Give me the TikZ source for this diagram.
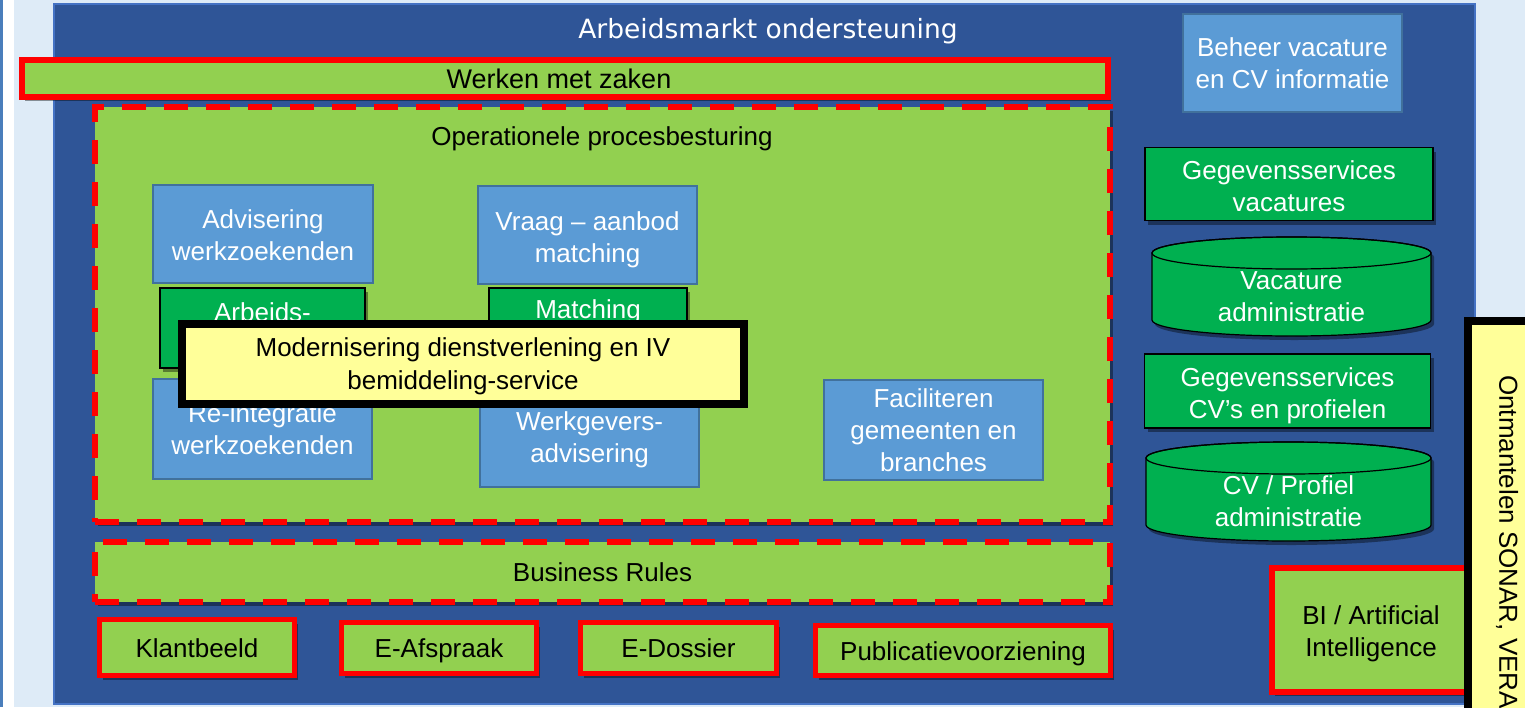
\documentclass[tikz,border=0pt]{standalone}
\usepackage{fontspec}
\setmainfont{Liberation Sans}
\newfontfamily\titlefont{DejaVu Sans}
\usetikzlibrary{shadows}
\definecolor{bgblue}{HTML}{DEEBF7}
\definecolor{stripblue}{HTML}{4A7EBB}
\definecolor{mainblue}{HTML}{2F5597}
\definecolor{mainborder}{HTML}{4472C4}
\definecolor{boxblue}{HTML}{5B9BD5}
\definecolor{boxborder}{HTML}{41719C}
\definecolor{ltgreen}{HTML}{92D050}
\definecolor{dkgreen}{HTML}{00B050}
\definecolor{yel}{HTML}{FFFF99}
\definecolor{redline}{HTML}{FF0000}
\tikzset{
  txt/.style={font=\fontsize{26}{32}\selectfont, align=center},
  one/.style={text height=19pt, text depth=0pt},
  shad/.style={drop shadow={shadow xshift=3pt,shadow yshift=-4pt,opacity=.4,fill=black}},
  bluebox/.style={txt, fill=boxblue, draw=boxborder, line width=2pt, text=white, inner sep=0pt},
  greenbox/.style={txt, fill=dkgreen, draw=black, line width=1.2pt, text=white, inner sep=0pt, shad},
  redbox/.style={txt, fill=ltgreen, draw=redline, line width=5.5pt, text=black, inner sep=0pt, shad},
  dashbox/.style={txt, fill=ltgreen, draw=redline, line width=6pt, dash pattern=on 24pt off 18pt, text=black, inner sep=0pt, shad},
  yelbox/.style={txt, fill=yel, draw=black, line width=8pt, text=black, inner sep=0pt},
  cylstyle/.style={fill=dkgreen, draw=black, line width=1.2pt, shad},
  wtxt/.style={txt, text=white, inner sep=0pt},
  btxt/.style={txt, text=black, inner sep=0pt},
}
\begin{document}
\begin{tikzpicture}[x=1pt,y=-1pt]
\useasboundingbox (0,0) rectangle (1525,707);
\clip (0,0) rectangle (1525,707);
% background
\fill[bgblue] (0,0) rectangle (1525,707);
\fill[white] (3,0) rectangle (14,707);
\fill[stripblue] (0,0) rectangle (2.5,707);
% main container
\node[fill=mainblue, draw=mainborder, line width=2pt, minimum width=1421, minimum height=700, inner sep=0pt] (main) at (764.5,354) {};
\node[font=\titlefont\fontsize{26.5}{32}\selectfont, text=white, anchor=base, inner sep=0pt] (title) at (768,38) {Arbeidsmarkt ondersteuning};
% Werken met zaken
\node[redbox, minimum width=1086, minimum height=37] (werken) at (565,78.5) {};
\node[btxt, one, font=\fontsize{27}{32}\selectfont] (werkentxt) at (559,78.5) {Werken met zaken};
% Operationele procesbesturing
\node[dashbox, minimum width=1015, minimum height=415] (oper) at (602.5,314.5) {};
\node[txt, anchor=base, inner sep=0pt] (opertitle) at (602,145) {Operationele procesbesturing};
% blue process boxes
\node[bluebox, minimum width=220, minimum height=98] (adv) at (263,233.5) {};
\node[wtxt] (advtxt) at (263,235.5) {Advisering\\werkzoekenden};
\node[bluebox, minimum width=219, minimum height=98] (vraag) at (587.5,235) {};
\node[wtxt] (vraagtxt) at (587.5,240) {Vraag -- aanbod\\matching};
% green service boxes (partly hidden)
\node[greenbox, minimum width=205, minimum height=80] (arbeids) at (262.5,328) {};
\node[wtxt] (arbeidstxt) at (262.5,312) {Arbeids-};
\node[greenbox, minimum width=198, minimum height=80] (matching) at (588,328) {};
\node[wtxt] (matchingtxt) at (588,312) {Matching};
\node[bluebox, minimum width=219, minimum height=100] (reint) at (262.5,429) {Re-integratie\\werkzoekenden};
\node[bluebox, minimum width=219, minimum height=104] (werkg) at (589.5,435) {};
\node[wtxt] (werkgtxt) at (589.5,440) {Werkgevers-\\advisering};
\node[bluebox, minimum width=219, minimum height=100] (facil) at (933.5,430) {Faciliteren\\gemeenten en\\branches};
% yellow overlay
\node[yelbox, minimum width=562, minimum height=80] (modern) at (463,364) {};
\node[btxt, font=\fontsize{26}{33}\selectfont] (moderntxt) at (463,366) {Modernisering dienstverlening en IV\\bemiddeling-service};
% Business rules
\node[dashbox, one, minimum width=1015, minimum height=60] (busrules) at (602.5,572) {Business Rules};
% bottom row
\node[redbox, one, minimum width=195, minimum height=56] (klant) at (197,647.5) {Klantbeeld};
\node[redbox, one, minimum width=195, minimum height=51] (eafspraak) at (439,648) {E-Afspraak};
\node[redbox, one, minimum width=196, minimum height=51] (edossier) at (678.5,648) {E-Dossier};
\node[redbox, one, minimum width=295, minimum height=50] (publ) at (963,650.5) {Publicatievoorziening};
% right column
\node[bluebox, minimum width=219, minimum height=98] (beheer) at (1292.5,63) {Beheer vacature\\en CV informatie};
\node[greenbox, minimum width=288, minimum height=73] (gegvac) at (1289,184) {};
\node[wtxt] (gegvactxt) at (1289,186) {Gegevensservices\\vacatures};
\path[cylstyle] (1152,253) -- (1152,320) arc[start angle=180,end angle=0,x radius=139.5,y radius=16] -- (1431,253) arc[start angle=0,end angle=-180,x radius=139.5,y radius=16] -- cycle;
\draw[black, line width=1.2pt] (1291.5,253) ellipse[x radius=139.5,y radius=16];
\node[wtxt] (cylvac) at (1291.5,297) {Vacature\\administratie};
\node[greenbox, minimum width=286, minimum height=74] (gegcv) at (1287.5,391) {};
\node[wtxt] (gegcvtxt) at (1287.5,396) {Gegevensservices\\CV’s en profielen};
\path[cylstyle] (1146,458) -- (1146,525) arc[start angle=180,end angle=0,x radius=142.5,y radius=16] -- (1431,458) arc[start angle=0,end angle=-180,x radius=142.5,y radius=16] -- cycle;
\draw[black, line width=1.2pt] (1288.5,458) ellipse[x radius=142.5,y radius=16];
\node[wtxt] (cylcv) at (1288.5,501) {CV / Profiel\\administratie};
\node[redbox, minimum width=198, minimum height=124] (bi) at (1371,630) {};
\node[btxt] (bitxt) at (1371,634) {BI / Artificial\\Intelligence};
% Ontmantelen
\node[yelbox, minimum width=80, minimum height=420, anchor=north west] (ontm) at (1464,317) {};
\node[btxt, rotate=-90, anchor=west] (ontmtxt) at (1507,375) {Ontmantelen SONAR, VERA};
\end{tikzpicture}
\end{document}
